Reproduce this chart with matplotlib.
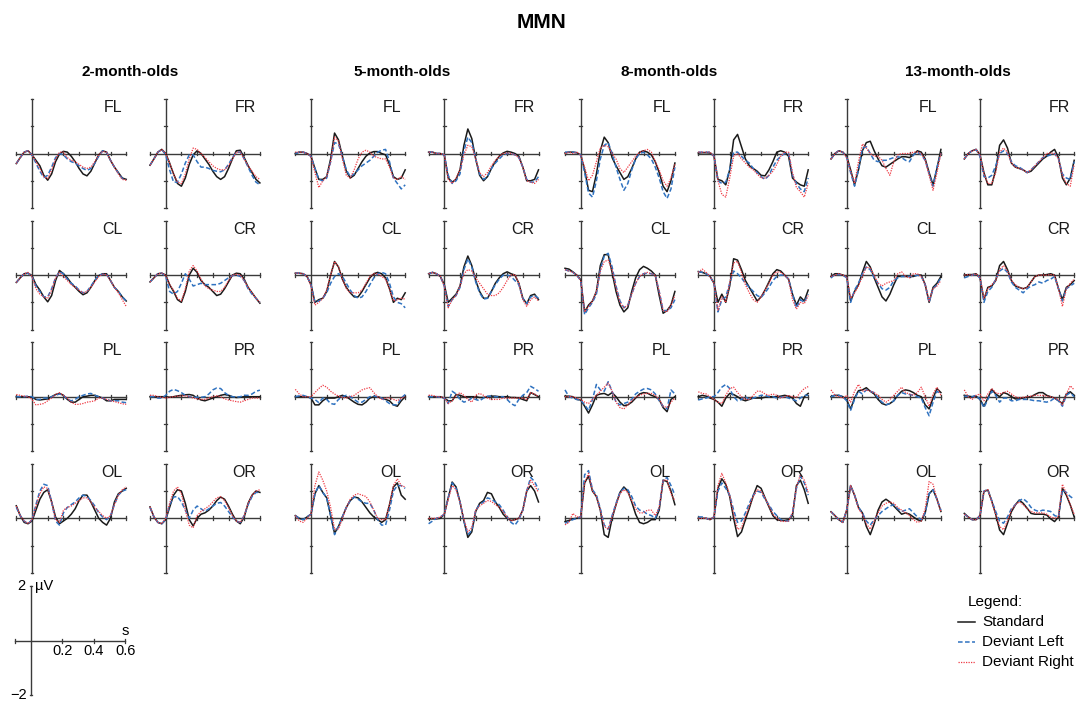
import numpy as np
import matplotlib
matplotlib.use("Agg")
import matplotlib.pyplot as plt
from matplotlib.lines import Line2D

plt.rcParams['font.family'] = ['Liberation Sans', 'DejaVu Sans']

# ---------------- data (µV, sampled every 0.025 s from -0.1 to 0.6 s) ----------------
groups = ["2-month-olds", "5-month-olds", "8-month-olds", "13-month-olds"]
channels = [["FL", "FR"], ["CL", "CR"], ["PL", "PR"], ["OL", "OR"]]
legend_labels = ["Standard", "Deviant Left", "Deviant Right"]

# 2-month-olds
M2_FL_S = [-0.37,-0.15,0.05,0.1,-0.05,-0.25,-0.45,-0.8,-0.98,-0.75,-0.3,-0.02,0.08,0.05,-0.1,-0.3,-0.55,-0.75,-0.82,-0.65,-0.35,-0.05,0.1,0.05,-0.25,-0.5,-0.7,-0.9,-0.95]
M2_FL_L = [-0.37,-0.15,0.05,0.1,-0.05,-0.35,-0.65,-0.88,-0.8,-0.5,-0.15,0.0,-0.05,-0.2,-0.3,-0.35,-0.45,-0.55,-0.62,-0.55,-0.35,-0.1,0.1,0.05,-0.25,-0.5,-0.72,-0.92,-0.95]
M2_FL_R = [-0.37,-0.15,0.05,0.1,-0.05,-0.3,-0.55,-0.85,-0.92,-0.6,-0.2,0.05,0.05,-0.15,-0.25,-0.3,-0.4,-0.5,-0.55,-0.5,-0.3,-0.05,0.08,0.05,-0.25,-0.5,-0.75,-0.95,-0.98]
M2_FR_S = [-0.43,-0.2,0.05,0.15,0.0,-0.35,-0.75,-1.1,-1.2,-0.9,-0.4,-0.05,0.1,0.0,-0.2,-0.4,-0.65,-0.85,-0.95,-0.85,-0.55,-0.2,0.1,0.12,-0.15,-0.45,-0.7,-0.95,-1.08]
M2_FR_L = [-0.43,-0.2,0.05,0.15,-0.05,-0.6,-1.05,-1.05,-0.75,-0.35,-0.05,-0.05,-0.3,-0.5,-0.5,-0.55,-0.62,-0.65,-0.67,-0.6,-0.4,-0.15,0.05,0.05,-0.2,-0.5,-0.8,-1.05,-1.15]
M2_FR_R = [-0.43,-0.2,0.05,0.15,0.0,-0.35,-0.75,-1.05,-1.1,-0.75,-0.2,0.2,0.15,0.0,-0.15,-0.3,-0.45,-0.55,-0.6,-0.6,-0.45,-0.2,0.05,0.05,-0.2,-0.45,-0.65,-0.85,-0.95]
M2_CL_S = [-0.27,-0.1,0.05,0.07,-0.02,-0.35,-0.55,-0.8,-0.98,-0.75,-0.2,0.17,0.05,-0.1,-0.3,-0.45,-0.6,-0.72,-0.65,-0.45,-0.2,-0.02,0.05,0.05,-0.2,-0.45,-0.6,-0.8,-0.95]
M2_CL_L = [-0.27,-0.1,0.05,0.07,-0.05,-0.4,-0.6,-0.8,-0.8,-0.5,-0.1,0.12,0.05,-0.15,-0.3,-0.4,-0.55,-0.65,-0.6,-0.4,-0.2,0.0,0.03,0.03,-0.2,-0.45,-0.6,-0.8,-0.95]
M2_CL_R = [-0.27,-0.1,0.05,0.1,-0.05,-0.5,-0.7,-0.8,-0.85,-0.55,-0.1,0.1,-0.05,-0.2,-0.35,-0.45,-0.55,-0.65,-0.6,-0.45,-0.25,-0.05,0.03,0.02,-0.2,-0.45,-0.65,-0.9,-1.15]
M2_CR_S = [-0.25,-0.1,0.05,0.07,0.0,-0.35,-0.6,-0.9,-1.0,-0.6,0.0,0.25,0.1,-0.2,-0.35,-0.45,-0.6,-0.75,-0.7,-0.5,-0.25,0.0,0.07,0.05,-0.15,-0.45,-0.65,-0.85,-1.03]
M2_CR_L = [-0.25,-0.1,0.05,0.07,-0.05,-0.6,-0.7,-0.6,-0.3,0.05,-0.15,-0.4,-0.35,-0.3,-0.35,-0.35,-0.35,-0.35,-0.3,-0.2,-0.1,-0.02,0.0,-0.05,-0.2,-0.5,-0.7,-0.85,-1.0]
M2_CR_R = [-0.25,-0.1,0.05,0.07,0.0,-0.35,-0.55,-0.85,-0.95,-0.5,0.15,0.35,0.15,-0.15,-0.4,-0.5,-0.55,-0.6,-0.6,-0.45,-0.2,0.0,0.03,0.0,-0.2,-0.45,-0.65,-0.85,-1.0]
M2_PL_S = [0.0,0.0,0.0,0.0,-0.02,-0.1,-0.12,-0.1,-0.08,0.0,0.08,0.12,0.05,-0.1,-0.2,-0.2,-0.1,0.0,0.02,0.05,0.05,0.0,-0.05,-0.15,-0.15,-0.1,-0.1,-0.1,-0.1]
M2_PL_L = [0.0,0.0,0.0,0.02,0.0,-0.1,-0.1,-0.05,-0.05,0.0,0.05,0.1,0.05,-0.1,-0.15,-0.1,0.0,0.05,0.1,0.12,0.05,0.0,-0.05,-0.1,-0.15,-0.15,-0.15,-0.2,-0.22]
M2_PL_R = [0.08,0.05,0.02,0.0,-0.1,-0.3,-0.28,-0.25,-0.15,-0.05,0.08,0.15,0.05,-0.05,-0.2,-0.28,-0.28,-0.25,-0.2,-0.18,-0.15,-0.05,-0.05,-0.1,-0.15,-0.18,-0.22,-0.26,-0.28]
M2_PR_S = [0.0,0.0,0.0,0.0,0.0,-0.02,0.0,0.03,0.05,0.07,0.08,0.05,-0.05,-0.12,-0.15,-0.1,-0.05,0.0,0.05,0.08,0.05,0.0,-0.03,-0.02,0.0,0.0,0.0,0.0,0.0]
M2_PR_L = [0.0,0.0,-0.05,-0.05,0.05,0.2,0.27,0.22,0.15,0.05,0.0,-0.02,-0.02,-0.02,0.0,0.1,0.25,0.32,0.3,0.15,0.05,0.0,-0.02,0.0,0.05,0.05,0.1,0.2,0.24]
M2_PR_R = [0.05,0.05,0.0,-0.02,-0.05,-0.02,0.0,0.02,0.03,0.03,0.0,-0.05,-0.08,-0.1,-0.1,-0.05,0.0,0.03,0.0,-0.08,-0.12,-0.15,-0.18,-0.2,-0.15,-0.1,-0.05,-0.05,-0.05]
M2_OL_S = [0.46,0.1,-0.15,-0.2,-0.1,0.3,0.7,0.95,1.05,0.6,0.05,-0.2,-0.1,0.0,0.15,0.35,0.65,0.85,0.85,0.6,0.3,0.0,-0.15,-0.25,0.0,0.6,0.9,1.0,1.1]
M2_OL_L = [0.4,0.1,-0.1,-0.2,-0.05,0.5,1.0,1.25,1.2,0.6,-0.1,-0.25,0.2,0.4,0.5,0.6,0.75,0.85,0.8,0.65,0.45,0.2,0.05,-0.05,0.1,0.5,0.85,1.0,1.05]
M2_OL_R = [0.45,0.1,-0.1,-0.2,-0.05,0.45,0.9,1.15,1.1,0.6,-0.05,-0.15,0.3,0.4,0.45,0.55,0.65,0.75,0.75,0.6,0.4,0.25,0.1,0.0,0.1,0.5,0.85,1.05,1.15]
M2_OR_S = [0.42,0.05,-0.15,-0.2,-0.05,0.4,0.85,1.05,1.0,0.55,-0.05,-0.28,0.0,0.15,0.2,0.3,0.45,0.65,0.78,0.7,0.45,0.15,-0.1,-0.2,0.05,0.55,0.85,1.0,0.95]
M2_OR_L = [0.4,0.05,-0.15,-0.2,-0.05,0.5,0.78,0.8,0.6,0.3,0.0,0.3,0.45,0.35,0.25,0.35,0.45,0.55,0.58,0.45,0.25,0.05,-0.1,-0.15,0.1,0.5,0.8,0.95,0.95]
M2_OR_R = [0.42,0.05,-0.15,-0.2,0.0,0.55,1.0,1.15,0.9,0.3,-0.25,-0.35,0.1,0.25,0.35,0.45,0.6,0.75,0.8,0.65,0.4,0.1,-0.1,-0.15,0.1,0.55,0.85,1.0,1.05]

# 5-month-olds
M5_FL_S = [0.0,0.05,0.05,0.0,-0.1,-0.55,-0.95,-0.95,-0.85,-0.2,0.75,0.5,-0.1,-0.65,-0.9,-0.8,-0.55,-0.3,-0.1,0.02,0.07,0.07,0.0,-0.05,-0.4,-0.85,-0.95,-0.9,-0.6]
M5_FL_L = [0.0,0.05,0.05,0.0,-0.1,-0.55,-0.95,-1.0,-0.9,-0.3,0.4,0.35,-0.1,-0.6,-0.85,-0.75,-0.6,-0.45,-0.35,-0.25,-0.1,0.05,0.12,0.15,-0.3,-0.9,-1.1,-1.3,-1.15]
M5_FL_R = [0.05,0.05,0.05,0.0,-0.1,-0.7,-1.25,-1.0,-0.85,-0.3,0.6,0.45,-0.2,-0.8,-0.9,-0.6,-0.2,0.05,0.12,0.05,-0.1,-0.15,-0.2,-0.2,-0.5,-0.9,-0.95,-0.85,-0.95]
M5_FR_S = [0.05,0.05,0.0,0.0,-0.05,-0.9,-1.05,-0.95,-0.6,0.3,0.9,0.55,-0.2,-0.8,-1.0,-0.85,-0.55,-0.3,-0.1,0.02,0.08,0.05,0.0,-0.1,-0.5,-1.0,-1.0,-0.95,-0.6]
M5_FR_L = [0.05,0.05,0.0,0.0,-0.05,-0.8,-1.1,-1.0,-0.75,0.1,0.6,0.4,-0.2,-0.75,-0.95,-0.85,-0.55,-0.35,-0.2,-0.05,0.0,0.0,-0.05,-0.15,-0.5,-0.95,-1.05,-1.05,-0.85]
M5_FR_R = [0.05,0.05,0.0,0.0,-0.05,-0.95,-1.1,-0.9,-0.6,-0.05,0.3,0.25,-0.2,-0.7,-0.85,-0.7,-0.45,-0.25,-0.1,0.0,0.02,0.0,-0.05,-0.15,-0.5,-1.0,-1.05,-1.1,-0.95]
M5_CL_S = [0.07,0.07,0.05,-0.05,-0.35,-1.0,-0.9,-0.85,-0.6,0.0,0.5,0.3,-0.15,-0.45,-0.65,-0.8,-0.8,-0.6,-0.35,-0.1,0.05,0.1,0.05,-0.1,-0.5,-1.0,-0.85,-0.9,-0.65]
M5_CL_L = [0.07,0.07,0.05,-0.05,-0.35,-1.0,-0.95,-0.85,-0.65,-0.3,-0.05,0.05,-0.05,-0.3,-0.55,-0.75,-0.85,-0.8,-0.6,-0.35,-0.1,0.05,0.1,0.05,-0.3,-0.8,-1.0,-1.05,-1.2]
M5_CL_R = [0.07,0.07,0.05,-0.05,-0.4,-1.1,-1.0,-0.85,-0.55,0.0,0.5,0.3,-0.15,-0.5,-0.65,-0.65,-0.65,-0.55,-0.3,-0.05,0.05,0.05,-0.05,-0.15,-0.5,-0.95,-0.9,-0.85,-0.88]
M5_CR_S = [0.05,0.1,0.05,-0.05,-0.35,-1.0,-0.85,-0.7,-0.4,0.3,0.7,0.35,-0.2,-0.6,-0.85,-0.85,-0.6,-0.3,-0.1,0.05,0.12,0.05,0.0,-0.3,-0.85,-1.05,-0.75,-0.7,-0.9]
M5_CR_L = [0.05,0.1,0.05,-0.05,-0.4,-1.15,-0.9,-0.75,-0.45,0.2,0.6,0.3,-0.25,-0.65,-0.88,-0.85,-0.6,-0.35,-0.15,0.0,0.0,-0.05,-0.2,-0.35,-0.85,-1.05,-0.8,-0.75,-0.85]
M5_CR_R = [0.05,0.1,0.05,-0.05,-0.4,-1.2,-0.9,-0.75,-0.4,0.05,0.2,0.15,-0.1,-0.3,-0.5,-0.7,-0.75,-0.75,-0.65,-0.45,-0.2,0.0,0.02,-0.3,-0.9,-1.15,-0.9,-0.8,-0.95]
M5_PL_S = [0.0,0.0,0.0,0.0,-0.05,-0.3,-0.3,-0.15,-0.05,-0.05,-0.05,0.0,0.05,0.0,-0.1,-0.2,-0.28,-0.3,-0.2,-0.05,0.0,0.0,-0.05,-0.1,-0.15,-0.3,-0.35,-0.15,0.0]
M5_PL_L = [0.0,0.03,0.05,0.0,-0.05,-0.1,-0.22,-0.05,-0.1,-0.25,-0.28,-0.1,0.0,0.05,0.0,-0.1,-0.2,-0.2,-0.1,0.0,0.02,0.0,-0.05,-0.15,-0.25,-0.3,-0.3,-0.05,0.08]
M5_PL_R = [0.27,0.1,0.0,0.0,0.0,0.15,0.3,0.42,0.35,0.2,0.1,0.02,-0.02,-0.05,0.0,0.05,0.15,0.25,0.3,0.33,0.15,0.0,-0.1,-0.05,-0.05,-0.1,-0.15,-0.05,0.0]
M5_PR_S = [0.0,0.0,0.0,0.0,-0.05,-0.15,-0.15,0.08,0.05,0.0,0.0,0.0,0.0,-0.03,-0.03,0.0,0.02,0.02,0.0,0.0,0.0,-0.03,-0.03,-0.05,-0.1,-0.15,0.15,0.08,0.0]
M5_PR_L = [0.0,0.0,0.0,-0.02,-0.05,-0.25,0.2,0.1,-0.1,-0.2,-0.15,-0.05,-0.1,-0.15,-0.05,0.02,0.02,0.0,0.0,0.0,-0.1,-0.25,-0.33,-0.1,0.05,0.15,0.38,0.3,0.2]
M5_PR_R = [0.05,0.05,0.0,0.0,-0.05,-0.25,-0.15,0.05,0.15,0.05,-0.1,-0.2,0.05,0.12,0.05,-0.05,-0.1,-0.1,-0.1,-0.05,-0.05,-0.05,-0.05,-0.05,-0.05,-0.1,0.15,0.1,0.0]
M5_OL_S = [0.1,0.0,-0.05,0.05,0.15,0.9,1.2,0.95,0.75,0.1,-0.55,-0.3,0.05,0.4,0.65,0.78,0.75,0.6,0.4,0.2,0.05,-0.05,-0.15,-0.05,0.5,1.15,1.3,0.85,0.7]
M5_OL_L = [0.1,0.0,-0.05,0.05,0.15,0.9,1.2,0.95,0.75,0.1,-0.6,-0.3,0.05,0.4,0.65,0.78,0.7,0.6,0.55,0.55,0.3,-0.05,-0.25,-0.25,0.3,1.0,1.2,1.2,1.1]
M5_OL_R = [0.1,-0.1,-0.15,0.0,0.15,1.2,1.7,1.4,1.0,0.4,-0.4,-0.4,0.0,0.4,0.7,0.85,0.9,0.85,0.8,0.6,0.3,0.0,-0.05,-0.05,0.5,1.2,1.45,1.2,1.15]
M5_OR_S = [-0.02,-0.02,-0.02,0.0,0.15,0.75,1.33,1.15,0.6,-0.1,-0.7,-0.5,0.25,0.55,0.65,0.95,0.9,0.6,0.4,0.15,0.0,-0.08,-0.05,0.0,0.3,1.0,1.2,1.0,0.6]
M5_OR_L = [-0.2,-0.1,0.0,0.05,0.15,0.75,1.3,1.1,0.6,-0.1,-0.6,-0.45,0.3,0.5,0.6,0.75,0.7,0.6,0.5,0.3,0.05,-0.15,-0.25,-0.05,0.3,1.0,1.5,1.35,1.05]
M5_OR_R = [0.0,0.0,0.0,0.05,0.15,0.7,1.2,1.05,0.6,-0.05,-0.5,-0.35,0.3,0.45,0.55,0.65,0.62,0.5,0.4,0.25,0.05,-0.1,-0.05,0.0,0.3,1.0,1.4,1.2,0.95]

# 8-month-olds
M8_FL_S = [0.02,0.05,0.05,0.03,-0.05,-0.6,-1.35,-1.4,-0.75,0.1,0.6,0.4,-0.15,-0.45,-0.7,-0.95,-0.85,-0.55,-0.2,0.05,0.1,0.05,-0.05,-0.3,-0.7,-1.2,-1.4,-1.0,-0.35]
M8_FL_L = [0.05,0.05,0.05,0.03,-0.05,-0.7,-1.45,-1.6,-1.0,-0.2,0.3,0.4,0.0,-0.5,-0.95,-1.35,-1.1,-0.6,-0.2,0.0,0.05,-0.05,-0.2,-0.5,-0.9,-1.4,-1.65,-1.3,-0.5]
M8_FL_R = [0.0,0.05,0.0,0.05,-0.05,-0.5,-1.0,-0.8,-0.3,0.2,0.3,0.25,0.0,-0.2,-0.55,-0.7,-0.5,-0.3,-0.1,0.05,0.1,0.15,0.05,-0.3,-0.6,-1.0,-1.2,-0.9,-0.4]
M8_FR_S = [0.02,0.03,0.03,0.02,-0.1,-0.95,-1.0,-1.15,-0.6,0.5,0.7,0.25,-0.2,-0.45,-0.55,-0.65,-0.8,-0.82,-0.6,-0.3,0.05,0.1,0.05,-0.1,-0.9,-1.05,-1.15,-1.2,-0.6]
M8_FR_L = [0.05,0.05,0.05,0.05,-0.1,-1.0,-1.1,-1.05,-0.6,0.05,0.05,-0.1,-0.25,-0.35,-0.55,-0.7,-0.85,-0.95,-0.8,-0.5,-0.25,-0.1,0.0,0.0,-0.8,-1.1,-1.3,-1.4,-0.9]
M8_FR_R = [0.05,0.05,0.05,0.05,-0.1,-1.0,-1.5,-1.6,-0.9,-0.1,0.0,-0.2,-0.35,-0.5,-0.6,-0.75,-0.9,-0.9,-0.8,-0.65,-0.4,-0.1,0.05,0.05,-0.7,-1.25,-1.4,-1.6,-1.1]
M8_CL_S = [0.25,0.22,0.12,0.0,-0.17,-1.35,-1.1,-0.95,-0.6,0.35,0.75,0.75,0.1,-0.6,-1.1,-1.35,-1.2,-0.6,-0.1,0.2,0.32,0.25,0.15,0.0,-0.75,-1.4,-1.3,-1.1,-0.6]
M8_CL_L = [0.2,0.15,0.1,0.0,-0.2,-1.45,-1.2,-1.0,-0.7,0.2,0.7,0.8,0.3,-0.4,-0.95,-1.2,-1.1,-0.7,-0.3,-0.05,0.05,0.07,0.05,0.0,-0.6,-1.3,-1.3,-1.2,-0.9]
M8_CL_R = [0.2,0.15,0.1,0.0,-0.2,-1.35,-1.15,-0.95,-0.6,0.15,0.5,0.55,0.2,-0.45,-1.0,-1.2,-1.1,-0.7,-0.3,-0.05,0.05,0.1,0.05,0.0,-0.6,-1.3,-1.35,-1.1,-0.75]
M8_CR_S = [0.13,0.1,0.05,-0.05,-0.3,-1.0,-0.7,-1.0,-0.4,0.6,0.55,0.2,-0.2,-0.45,-0.7,-0.95,-0.8,-0.55,-0.25,0.05,0.2,0.15,0.0,-0.15,-0.7,-1.1,-0.8,-0.95,-0.55]
M8_CR_L = [0.13,0.1,0.05,-0.05,-0.3,-1.35,-0.9,-0.8,-0.3,0.15,0.05,-0.1,-0.3,-0.45,-0.6,-0.75,-0.82,-0.65,-0.45,-0.2,-0.05,0.0,0.0,-0.15,-0.7,-1.2,-0.9,-1.0,-0.7]
M8_CR_R = [0.1,0.22,0.1,-0.05,-0.3,-1.3,-0.8,-1.0,-0.3,0.45,0.5,0.1,-0.35,-0.65,-0.9,-1.0,-0.8,-0.55,-0.3,0.0,0.12,0.1,0.0,-0.15,-0.9,-1.25,-1.0,-1.05,-0.75]
M8_PL_S = [0.02,0.02,0.0,-0.1,-0.12,-0.35,-0.6,-0.3,0.05,0.1,0.12,0.05,0.15,0.0,-0.2,-0.33,-0.3,-0.2,-0.05,0.1,0.15,0.13,0.05,0.0,-0.1,-0.4,-0.55,-0.1,0.0]
M8_PL_L = [0.25,0.0,-0.05,-0.1,-0.12,-0.3,-0.5,-0.1,0.45,0.25,0.2,0.55,0.2,-0.2,-0.3,-0.25,-0.2,-0.1,0.1,0.2,0.28,0.3,0.25,0.1,-0.15,-0.35,-0.45,0.25,0.1]
M8_PL_R = [0.0,0.0,0.0,-0.05,-0.1,-0.2,-0.25,-0.1,0.05,0.2,0.35,0.5,0.2,-0.2,-0.4,-0.45,-0.3,-0.15,-0.02,0.05,0.1,0.12,0.12,0.05,-0.1,-0.35,-0.4,-0.2,-0.05]
M8_PR_S = [0.0,0.05,0.02,-0.05,-0.1,-0.2,-0.35,-0.05,0.12,0.08,0.0,-0.1,-0.15,-0.1,-0.05,-0.05,-0.05,-0.02,0.0,0.0,0.0,0.02,0.05,0.02,-0.05,-0.25,-0.35,0.0,0.12]
M8_PR_L = [-0.12,-0.08,-0.05,0.0,0.0,0.15,0.35,0.45,0.3,0.0,-0.15,-0.1,0.0,-0.1,-0.05,0.0,0.05,0.05,0.0,0.0,-0.05,-0.02,0.0,-0.05,-0.1,-0.15,-0.05,0.05,0.05]
M8_PR_R = [0.18,0.12,0.1,0.0,-0.1,-0.2,-0.25,0.05,0.3,0.35,0.15,0.0,-0.1,-0.1,0.05,0.2,0.2,0.1,0.05,0.1,0.05,-0.05,0.0,0.05,0.0,-0.02,0.15,0.3,0.37]
M8_OL_S = [-0.12,-0.08,-0.02,0.0,0.05,1.3,1.55,1.0,0.8,0.3,-0.6,-0.7,0.0,0.5,0.95,1.15,1.0,0.6,0.15,-0.15,-0.2,-0.15,-0.05,-0.05,0.3,1.4,1.35,1.0,0.5]
M8_OL_L = [-0.18,-0.12,-0.05,0.0,0.05,1.6,1.75,1.05,0.85,0.35,-0.25,-0.4,0.1,0.55,0.95,1.1,1.05,0.8,0.45,0.3,0.25,0.15,0.1,0.0,0.4,1.4,1.5,1.2,0.85]
M8_OL_R = [-0.24,-0.15,0.18,0.05,0.05,1.3,1.65,1.0,0.8,0.3,-0.3,-0.4,0.05,0.5,0.9,1.05,0.95,0.65,0.35,0.2,0.2,0.3,0.3,0.1,0.4,1.4,1.4,0.9,0.65]
M8_OR_S = [0.0,0.0,0.0,-0.05,0.05,1.1,1.45,1.24,0.8,0.0,-0.67,-0.5,-0.05,0.37,0.83,1.2,1.1,0.75,0.42,0.1,-0.05,-0.08,-0.08,-0.05,0.1,1.2,1.4,1.05,0.55]
M8_OR_L = [0.05,0.05,0.0,-0.05,0.05,1.0,1.3,1.1,0.85,0.3,-0.15,-0.1,0.2,0.55,0.85,1.0,0.95,0.7,0.5,0.25,0.1,-0.05,-0.1,-0.1,0.2,1.1,1.55,1.3,0.85]
M8_OR_R = [0.0,0.0,0.0,-0.05,0.05,1.2,1.65,1.3,0.85,0.15,-0.4,-0.35,0.05,0.45,0.8,1.05,1.0,0.75,0.45,0.15,0.0,-0.1,-0.12,-0.1,0.2,1.15,1.6,1.4,0.95]

# 13-month-olds
M13_FL_S = [-0.2,0.0,0.1,0.05,-0.1,-0.6,-1.15,-0.6,0.1,0.4,0.45,0.1,-0.2,-0.45,-0.5,-0.4,-0.3,-0.2,-0.12,-0.12,-0.15,-0.05,0.1,0.05,-0.2,-0.7,-1.15,-0.55,0.15]
M13_FL_L = [-0.2,0.0,0.1,0.05,-0.15,-0.7,-1.2,-0.6,0.2,0.25,0.0,-0.25,-0.3,-0.25,-0.25,-0.2,-0.15,-0.12,-0.15,-0.25,-0.3,-0.05,0.05,-0.05,-0.25,-0.75,-1.2,-0.5,0.0]
M13_FL_R = [-0.2,0.0,0.1,0.05,-0.15,-0.65,-1.1,-0.3,0.35,0.2,0.0,-0.1,-0.1,-0.25,-0.55,-0.8,-0.3,-0.05,0.0,0.0,0.0,0.05,0.06,0.0,-0.25,-0.8,-1.35,-0.7,0.0]
M13_FR_S = [-0.2,0.0,0.1,0.15,-0.05,-0.7,-1.15,-1.15,-0.6,0.3,0.5,0.2,-0.35,-0.5,-0.55,-0.6,-0.7,-0.65,-0.5,-0.35,-0.2,-0.1,0.05,0.15,-0.15,-0.9,-1.15,-0.9,-0.25]
M13_FR_L = [-0.2,0.0,0.1,0.15,-0.1,-0.85,-0.9,-0.8,-0.45,0.0,0.1,0.0,-0.3,-0.45,-0.5,-0.6,-0.7,-0.6,-0.45,-0.3,-0.15,-0.1,-0.05,0.0,-0.2,-0.75,-0.9,-0.95,-0.3]
M13_FR_R = [-0.2,0.0,0.1,0.15,-0.05,-0.75,-1.1,-1.1,-0.7,0.05,0.2,0.05,-0.35,-0.5,-0.55,-0.6,-0.7,-0.6,-0.45,-0.3,-0.15,0.0,0.02,0.0,-0.2,-0.8,-1.1,-1.2,-0.4]
M13_CL_S = [-0.05,0.05,0.05,0.0,-0.05,-0.95,-0.6,-0.35,0.1,0.5,0.3,-0.1,-0.45,-0.8,-0.95,-0.7,-0.35,-0.05,-0.05,-0.05,-0.05,-0.05,0.0,0.0,-0.35,-1.0,-0.45,-0.3,-0.05]
M13_CL_L = [-0.1,0.02,0.02,0.0,-0.1,-1.0,-0.55,-0.3,0.05,0.3,0.2,-0.1,-0.3,-0.5,-0.55,-0.45,-0.2,-0.1,-0.05,-0.05,-0.05,-0.05,0.0,-0.05,-0.35,-1.0,-0.5,-0.35,-0.1]
M13_CL_R = [-0.05,0.0,0.05,0.0,-0.05,-0.85,-0.65,-0.4,-0.05,0.3,0.25,0.0,-0.3,-0.4,-0.3,-0.25,-0.2,0.05,0.12,-0.05,-0.1,0.05,0.05,-0.05,-0.35,-0.95,-0.5,-0.4,-0.2]
M13_CR_S = [0.0,0.02,0.02,0.05,-0.1,-0.9,-0.45,-0.4,-0.2,0.35,0.5,0.2,-0.2,-0.4,-0.45,-0.5,-0.45,-0.25,-0.05,0.0,0.0,0.02,0.05,0.0,-0.5,-0.9,-0.45,-0.35,-0.2]
M13_CR_L = [-0.1,-0.05,0.0,0.03,-0.1,-1.0,-0.6,-0.45,-0.15,0.15,0.25,0.1,-0.25,-0.45,-0.55,-0.65,-0.5,-0.4,-0.35,-0.25,-0.3,-0.2,-0.15,-0.05,-0.5,-0.95,-0.5,-0.4,-0.3]
M13_CR_R = [0.0,0.02,0.0,0.05,-0.1,-0.85,-0.5,-0.35,-0.2,0.2,0.35,0.15,-0.2,-0.35,-0.45,-0.5,-0.45,-0.25,-0.05,0.0,0.0,0.0,0.02,0.0,-0.5,-1.15,-0.5,-0.3,-0.15]
M13_PL_S = [0.0,0.05,0.05,0.0,-0.12,-0.45,-0.05,0.22,0.25,0.33,0.2,0.1,-0.1,-0.25,-0.3,-0.25,-0.15,0.05,0.2,0.25,0.22,0.15,0.05,0.0,-0.3,-0.45,-0.05,0.3,0.15]
M13_PL_L = [0.0,0.05,0.05,0.0,-0.15,-0.5,-0.1,0.2,0.1,0.25,0.2,0.15,-0.05,-0.2,-0.3,-0.25,-0.15,0.05,0.15,0.1,0.08,0.05,0.0,-0.05,-0.4,-0.7,-0.2,0.2,0.1]
M13_PL_R = [0.25,0.05,0.0,-0.05,0.05,-0.2,0.2,0.45,0.2,0.25,0.2,0.15,0.05,-0.1,-0.2,-0.1,0.05,0.2,0.35,0.15,0.1,0.05,0.15,0.35,0.0,-0.35,0.1,0.35,0.05]
M13_PR_S = [0.05,0.02,0.0,0.02,-0.1,-0.35,-0.05,0.27,0.1,0.0,0.15,0.1,0.0,-0.08,-0.08,-0.05,-0.02,0.0,0.08,0.15,0.15,0.05,0.0,-0.05,-0.15,-0.25,0.1,0.18,0.05]
M13_PR_L = [0.02,0.02,0.0,0.05,-0.1,-0.4,-0.1,0.2,0.05,-0.2,-0.05,-0.05,-0.15,-0.15,-0.1,-0.1,-0.1,-0.12,-0.15,-0.15,-0.18,-0.2,-0.15,-0.05,-0.15,-0.35,0.05,0.15,0.0]
M13_PR_R = [0.25,0.0,-0.1,0.05,0.1,-0.15,0.1,0.3,0.15,0.1,0.15,0.2,0.1,0.0,-0.05,-0.02,0.0,0.02,0.05,0.05,0.05,0.02,0.0,-0.05,-0.1,-0.3,0.1,0.4,0.25]
M13_OL_S = [0.24,0.1,-0.05,-0.15,0.3,1.2,0.85,0.4,0.2,-0.3,-0.6,-0.2,0.3,0.6,0.7,0.6,0.45,0.3,0.15,0.2,0.15,0.05,-0.05,-0.1,0.2,0.9,1.05,0.7,0.25]
M13_OL_L = [0.24,0.1,-0.05,-0.15,0.3,1.2,0.85,0.4,0.2,-0.1,-0.25,-0.05,0.1,0.25,0.35,0.45,0.5,0.35,0.25,0.3,0.35,0.2,0.05,-0.05,0.2,0.9,1.05,0.7,0.3]
M13_OL_R = [0.24,0.1,-0.05,-0.15,0.3,1.2,0.85,0.35,0.15,-0.2,-0.4,-0.1,0.2,0.45,0.55,0.6,0.55,0.4,0.3,0.2,0.1,-0.05,-0.15,-0.1,0.35,1.35,1.25,0.7,0.25]
M13_OR_S = [0.18,0.05,-0.05,-0.05,0.1,0.98,1.04,0.63,0.15,-0.43,-0.6,-0.18,0.24,0.49,0.67,0.55,0.37,0.18,0.15,0.15,0.15,0.12,-0.02,-0.12,0.05,1.1,0.85,0.49,0.05]
M13_OR_L = [0.15,0.05,-0.05,-0.05,0.1,1.0,1.05,0.65,0.25,-0.1,-0.18,0.05,0.35,0.5,0.65,0.72,0.6,0.4,0.3,0.25,0.3,0.28,0.25,0.1,0.05,1.05,0.95,0.8,0.7]
M13_OR_R = [0.15,0.05,-0.05,-0.05,0.1,1.0,1.05,0.6,0.15,-0.3,-0.42,-0.1,0.3,0.5,0.6,0.5,0.35,0.25,0.2,0.2,0.2,0.15,0.05,0.0,0.05,1.25,0.9,0.5,0.15]

# table built from the named lists
ns = globals()
prefixes = ["M2", "M5", "M8", "M13"]
def series(g, ch):
    p = prefixes[g]
    return [ns[f"{p}_{ch}_S"], ns[f"{p}_{ch}_L"], ns[f"{p}_{ch}_R"]]

# ---------------- layout ----------------
W, H = 1083, 702
fig = plt.figure(figsize=(W / 100, H / 100), dpi=100)

zero_x = [32, 165.7, 311, 444.3, 580.7, 714, 846.7, 980]
zero_y = [153.5, 275.1, 396.7, 518.3]
PX_S = 157.0     # px per second
PX_UV = 27.25    # px per µV
T0, T1 = -0.1, 0.6
Y0, Y1 = -2.0, 2.0

AX_COL = '#3a3a3a'
styles = [dict(color='#1a1a1a', lw=1.1, ls='-'),
          dict(color='#2f72c0', lw=1.1, ls=(0, (3.0, 1.6))),
          dict(color='#ee3b45', lw=0.9, ls=(0, (1.0, 1.0)))]

def make_axes(zx, zy):
    left = zx - (0 - T0) * PX_S
    top = zy - Y1 * PX_UV
    w = (T1 - T0) * PX_S
    h = (Y1 - Y0) * PX_UV
    ax = fig.add_axes([left / W, 1 - (top + h) / H, w / W, h / H])
    ax.set_xlim(T0, T1)
    ax.set_ylim(Y0, Y1)
    ax.axis('off')
    return ax

def draw_frame(ax, xticks, yticks):
    ax.plot([T0, T1], [0, 0], color=AX_COL, lw=1.0, clip_on=False, zorder=1)
    ax.plot([0, 0], [Y0, Y1], color=AX_COL, lw=1.0, clip_on=False, zorder=1)
    for xt in xticks:
        ax.plot([xt, xt], [-0.07, 0.07], color=AX_COL, lw=0.9, clip_on=False, zorder=1)
    for yt in yticks:
        ax.plot([-0.008, 0.008], [yt, yt], color=AX_COL, lw=0.9, clip_on=False, zorder=1)

for g in range(4):
    for r in range(4):
        for c in range(2):
            ch = channels[r][c]
            ax = make_axes(zero_x[2 * g + c], zero_y[r])
            draw_frame(ax, [-0.1, 0.1, 0.2, 0.3, 0.4, 0.5, 0.6], [-2, -1, 1, 2])
            for ys, st in zip(series(g, ch), styles):
                tt = np.linspace(T0, T1, len(ys))
                ax.plot(tt, ys, clip_on=False, zorder=3, **st)
            ax.text(0.575, 1.68, ch, ha='right', va='center', fontsize=11.5, color='#1a1a1a')

# titles
fig.text(541 / W, 1 - 22 / H, "MMN", ha='center', va='center', fontsize=15, fontweight='bold')
title_x = [130, 402, 669, 958]
for gx, name in zip(title_x, groups):
    fig.text(gx / W, 1 - 72 / H, name, ha='center', va='center', fontsize=11, fontweight='bold')

# scale bar
sax = make_axes(31, 640.7)
draw_frame(sax, [-0.1, 0.2, 0.4, 0.6], [-2, 2])
sax.text(-0.035, 2.0, "2", ha='right', va='center', fontsize=10.5)
sax.text(0.025, 2.0, "µV", ha='left', va='center', fontsize=10.5)
sax.text(-0.025, -2.0, "\u22122", ha='right', va='center', fontsize=10.5)
sax.text(0.6, 0.1, "s", ha='center', va='bottom', fontsize=10.5)
for xt, lab in zip([0.2, 0.4, 0.6], ["0.2", "0.4", "0.6"]):
    sax.text(xt, -0.12, lab, ha='center', va='top', fontsize=10.5)

# legend
fig.text(968 / W, 1 - 602 / H, "Legend:", ha='left', va='center', fontsize=11)
for i, (lab, st) in enumerate(zip(legend_labels, styles)):
    yy = 1 - (622 + 20 * i) / H
    fig.add_artist(Line2D([958 / W, 975 / W], [yy, yy], transform=fig.transFigure, **st))
    fig.text(982 / W, yy, lab, ha='left', va='center', fontsize=11)

fig.savefig("out.png", dpi=100)
